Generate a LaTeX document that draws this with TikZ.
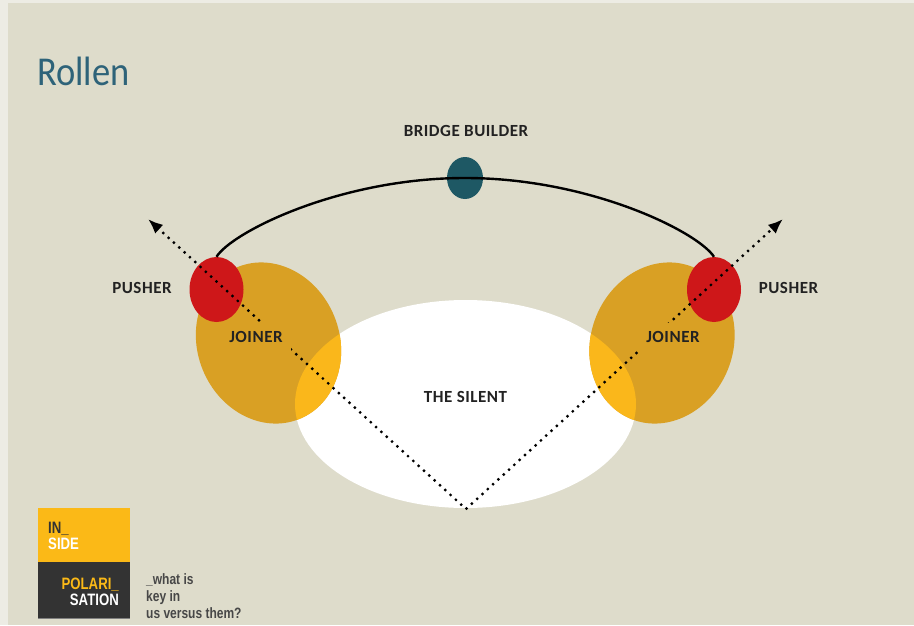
\documentclass[tikz,border=0pt]{standalone}
\usepackage{fontspec}
\setmainfont{Carlito}
\newfontfamily\rolefont[LetterSpace=3]{Carlito}
\newfontfamily\logofont{Liberation Sans}
\usetikzlibrary{arrows.meta,shapes.geometric,positioning}

\definecolor{slide}{HTML}{DEDCCB}
\definecolor{slideedge}{HTML}{EDECE4}
\definecolor{titleblue}{HTML}{2E6379}
\definecolor{bridgeteal}{HTML}{1E5864}
\definecolor{pushred}{HTML}{CE1719}
\definecolor{ochre}{HTML}{D9A024}
\definecolor{brightorange}{HTML}{FAB71B}
\definecolor{labelgray}{HTML}{222222}
\definecolor{logoyellow}{HTML}{FBB917}
\definecolor{logodark}{HTML}{333333}
\definecolor{taggray}{HTML}{474747}

\begin{document}
\begin{tikzpicture}[x=1pt,y=-1pt]

\tikzset{
  role/.style={font=\rolefont\bfseries\fontsize{17}{20}\selectfont, text=labelgray, inner sep=0pt},
  blob/.style={ellipse, inner sep=0pt, draw=none},
  bridgeline/.style={line width=2.4pt, black},
  dotline/.style={line width=3.2pt, line cap=round, dash pattern=on 0pt off 7.2pt,
    <->, >={Latex[length=15pt,width=12pt]}},
  logotext/.style={font=\logofont\bfseries\fontsize{16.5}{18}\selectfont, inner sep=0pt},
  tagtext/.style={font=\logofont\bfseries\fontsize{15}{17}\selectfont, text=taggray, inner sep=0pt, anchor=base west}
}

\fill[slideedge] (0,0) rectangle (914,625);
\fill[slide] (8,3) rectangle (914,625);
\useasboundingbox (0,0) rectangle (914,625);

\node[anchor=base west, text=titleblue, font=\fontsize{41}{48}\selectfont, inner sep=0pt] (title) at (37,85) {\scalebox{0.89}[1]{Rollen}};

% the silent and the joiners
\fill[white] (465.5,404) ellipse (170.5 and 104);
\fill[ochre, rotate around={22:(268.5,343)}] (268.5,343) ellipse (71 and 82);
\fill[ochre, rotate around={-22:(662,343)}] (662,343) ellipse (71 and 82);
\begin{scope}
\clip (465.5,404) ellipse (170.5 and 104);
\fill[brightorange, rotate around={22:(268.5,343)}] (268.5,343) ellipse (71 and 82);
\fill[brightorange, rotate around={-22:(662,343)}] (662,343) ellipse (71 and 82);
\end{scope}

\node[blob, fill=pushred, minimum width=54, minimum height=65] (pushL) at (216.5,289.5) {};
\node[blob, fill=pushred, minimum width=54, minimum height=65] (pushR) at (714,289.5) {};
\node[blob, fill=bridgeteal, minimum width=36, minimum height=42] (bridge) at (465,178) {};

\draw[bridgeline] (pushL.north) .. controls (232,232) and (340,178) .. (bridge.center)
  .. controls (590,178) and (698,232) .. (pushR.north);

\coordinate (base) at (466,509);
\coordinate (tipL) at (148,219);
\coordinate (tipR) at (783,219);
\draw[dotline] (tipL) -- (base) -- (tipR);

\node[role] (bridgelabel) at (466,131) {BRIDGE BUILDER};
\node[role] (pusherL) at (142,288) {PUSHER};
\node[role] (pusherR) at (788.5,288) {PUSHER};
\node[role, fill=ochre, inner sep=8pt] (joinerL) at (256,337) {JOINER};
\node[role, fill=ochre, inner sep=8pt] (joinerR) at (673,337) {JOINER};
\node[role] (silent) at (465.5,397) {THE SILENT};

% logo
\fill[logoyellow] (38,508) rectangle (130,562);
\fill[logodark] (38,562) rectangle (130,618);
\draw[gray, line width=1.2pt] (38,618.6) -- (130,618.6);
\node[logotext, text=logodark, anchor=base west] (inside1) at (48,533) {\scalebox{0.8}[1]{IN\_}};
\node[logotext, text=white, anchor=base west] (inside2) at (48,549) {\scalebox{0.8}[1]{SIDE}};
\node[logotext, text=logoyellow, anchor=base east] (polar1) at (119,589) {\scalebox{0.8}[1]{POLARI\_}};
\node[logotext, text=white, anchor=base east] (polar2) at (119,605) {\scalebox{0.8}[1]{SATION}};

\node[tagtext] (tag1) at (146,584) {\scalebox{0.8}[1]{\_what is}};
\node[tagtext] (tag2) at (146,601) {\scalebox{0.8}[1]{key in}};
\node[tagtext] (tag3) at (146,618) {\scalebox{0.8}[1]{us versus them?}};

\end{tikzpicture}
\end{document}
